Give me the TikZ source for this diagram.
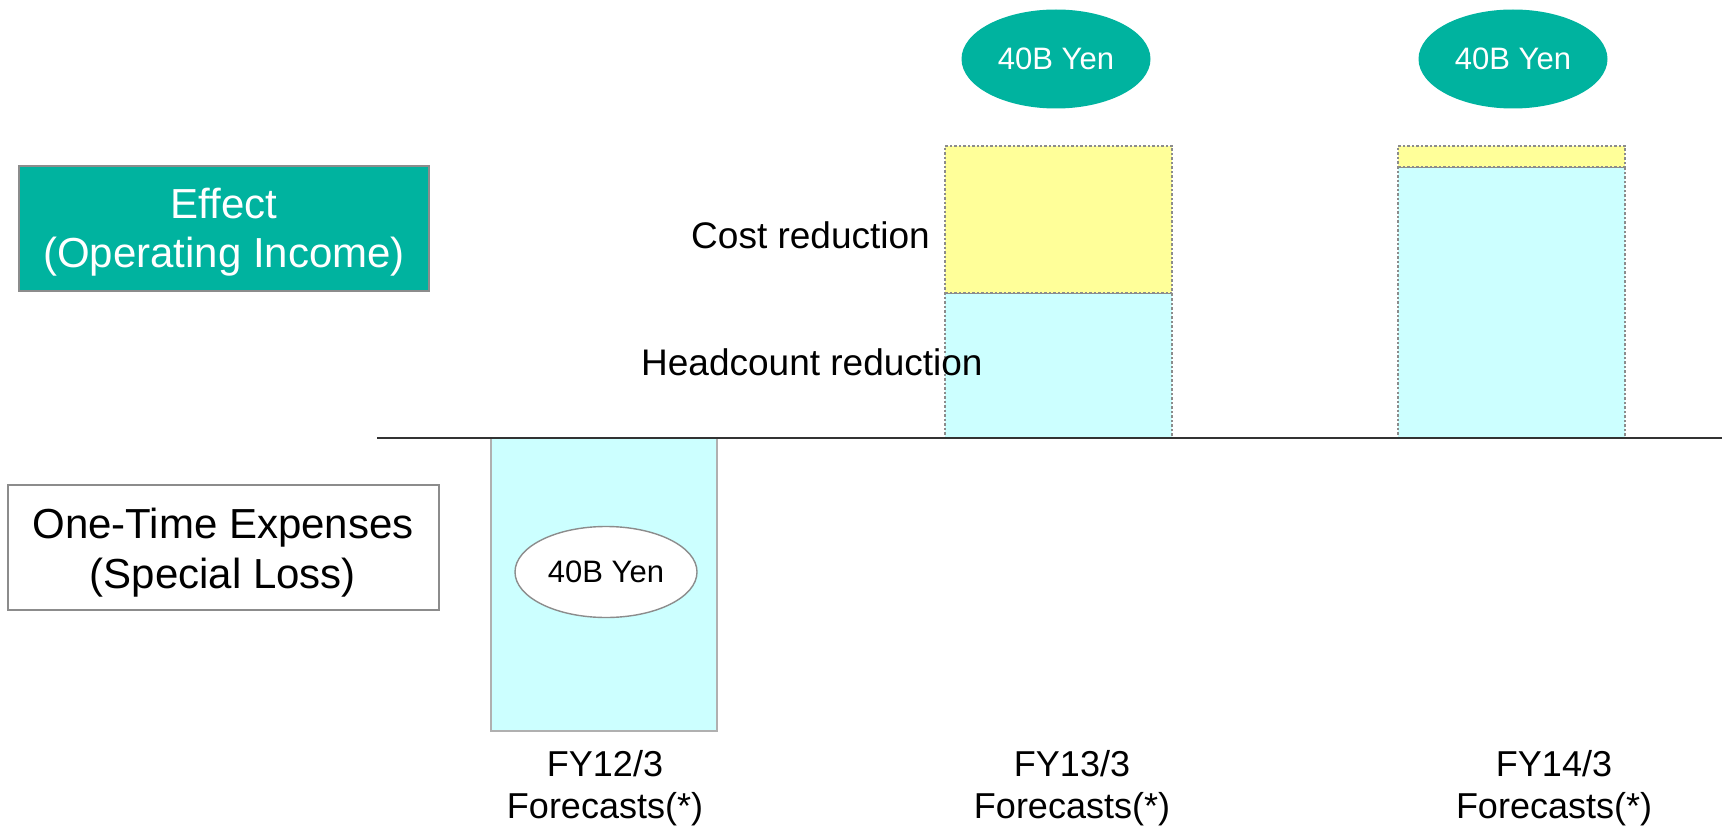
\documentclass[tikz,border=0pt]{standalone}
\usepackage{fontspec}
\setmainfont{Liberation Sans}
\usetikzlibrary{shapes.geometric}
\definecolor{teal}{RGB}{0,179,159}
\definecolor{paleyellow}{RGB}{255,255,153}
\definecolor{palecyan}{RGB}{204,255,255}
\definecolor{edgegray}{RGB}{140,140,140}
\definecolor{bargray}{RGB}{176,176,176}
\definecolor{axisgray}{RGB}{50,50,50}
\tikzset{
  x=1pt, y=-1pt,
  headbox/.style={rectangle, draw=edgegray, line width=2pt, inner sep=0pt},
  dotbar/.style={rectangle, draw=edgegray, line width=1.4pt, dash pattern=on 2.5pt off 2pt, inner sep=0pt},
  yenbubble/.style={ellipse, inner sep=0pt, font=\fontsize{31}{37}\selectfont},
  bigtxt/.style={inner sep=0pt, font=\fontsize{42}{50}\selectfont, anchor=base},
  midtxt/.style={inner sep=0pt, font=\fontsize{37}{44}\selectfont},
  yeartxt/.style={inner sep=0pt, font=\fontsize{36}{43}\selectfont, anchor=base},
}
\begin{document}
\begin{tikzpicture}
\useasboundingbox (0,0) rectangle (1722,829);

% row headings
\node[headbox, fill=teal, minimum width=410pt, minimum height=125pt] (effbox) at (224,228.5) {};
\node[bigtxt, text=white] (eff1) at (224,219) {Effect};
\node[bigtxt, text=white] (eff2) at (224,268) {(Operating Income)};

\node[headbox, fill=white, minimum width=431pt, minimum height=125pt] (otbox) at (223.5,547.5) {};
\node[bigtxt] (ot1) at (223,538) {One-Time Expenses};
\node[bigtxt] (ot2) at (223,588) {(Special Loss)};

% FY12/3: one-time expense bar below the axis
\node[rectangle, draw=bargray, line width=1.4pt, fill=palecyan, inner sep=0pt,
      minimum width=226pt, minimum height=293pt] (bar12) at (604,584.5) {};
\node[yenbubble, draw=edgegray, line width=1.4pt, fill=white,
      minimum width=182pt, minimum height=91pt] (yen12) at (606,572) {40B Yen};

% FY13/3: stacked effect bar
\node[dotbar, fill=palecyan, minimum width=227pt, minimum height=145pt] (head13) at (1058.5,365.5) {};
\node[dotbar, fill=paleyellow, minimum width=227pt, minimum height=147pt] (cost13) at (1058.5,219.5) {};
\node[yenbubble, fill=teal, text=white, minimum width=189pt, minimum height=99pt] (yen13) at (1056,59) {40B Yen};

% FY14/3: stacked effect bar
\node[dotbar, fill=palecyan, minimum width=227pt, minimum height=271pt] (head14) at (1511.5,302.5) {};
\node[dotbar, fill=paleyellow, minimum width=227pt, minimum height=21pt] (cost14) at (1511.5,156.5) {};
\node[yenbubble, fill=teal, text=white, minimum width=189pt, minimum height=99pt] (yen14) at (1513,59) {40B Yen};

% zero axis
\coordinate (axL) at (377,438);
\coordinate (axR) at (1722,438);
\draw[axisgray, line width=1.5pt] (axL) -- (axR);

% component labels
\node[midtxt, anchor=base east] (costlbl) at (930,249) {Cost reduction};
\node[midtxt, anchor=base west] (headlbl) at (641,375) {Headcount reduction};

% fiscal year labels
\node[yeartxt] (fy12a) at (605,776) {FY12/3};
\node[yeartxt] (fy12b) at (605,818) {Forecasts(*)};
\node[yeartxt] (fy13a) at (1072,776) {FY13/3};
\node[yeartxt] (fy13b) at (1072,818) {Forecasts(*)};
\node[yeartxt] (fy14a) at (1554,776) {FY14/3};
\node[yeartxt] (fy14b) at (1554,818) {Forecasts(*)};
\end{tikzpicture}
\end{document}
